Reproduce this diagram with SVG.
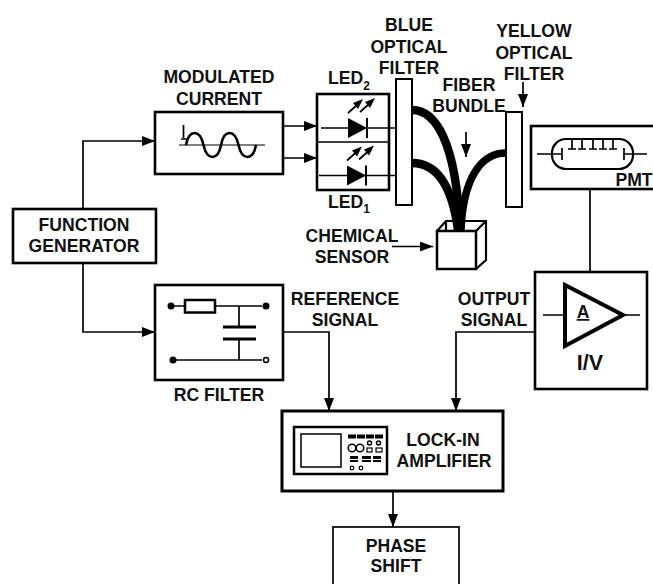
<svg xmlns="http://www.w3.org/2000/svg" width="653" height="584" viewBox="0 0 653 584">
<style>
text{font-family:"Liberation Sans",Arial,sans-serif;font-weight:bold;font-size:17.6px;fill:#111;text-anchor:middle}
.b{fill:#fff;stroke:#000;stroke-width:2.600}
.t{fill:#fff;stroke:#000;stroke-width:2}
.l{fill:none;stroke:#000;stroke-width:1.700}
.f{fill:none;stroke:#000;stroke-width:8.500}
.k{fill:#000;stroke:none}
.s{fill:#fff;stroke:#000;stroke-width:1.200}
</style>
<defs>
<marker id="a" markerUnits="userSpaceOnUse" markerWidth="14" markerHeight="10" refX="13" refY="5" orient="auto"><path d="M0,0L13,5L0,10Z" fill="#000"/></marker>
<g id="led"><path class="k" d="M0,-10L19,0L0,10Z"/><path d="M19,-10V10" fill="none" stroke="#000" stroke-width="2"/><path class="l" d="M0,-15L9,-23M12,-16L21,-24"/><path class="k" d="M15,-29L5,-25L10,-19ZM27,-30L17,-26L22,-20Z"/></g>
</defs>
<g id="connectors">
<path class="l" d="M83,209V141H155" marker-end="url(#a)"/>
<path class="l" d="M83,263V332H155" marker-end="url(#a)"/>
<path class="l" d="M283,126H317" marker-end="url(#a)"/>
<path class="l" d="M283,158H317" marker-end="url(#a)"/>
<path class="l" d="M283,332H329V411" marker-end="url(#a)"/>
<path class="l" d="M535,332H456V411" marker-end="url(#a)"/>
<path class="l" d="M393,491V527" marker-end="url(#a)"/>
<path class="l" d="M590,189V272"/>
<path class="l" d="M392,246.500H433" marker-end="url(#a)"/>
<path class="l" d="M466,132V157" marker-end="url(#a)"/>
<path class="l" d="M523,82V107" marker-end="url(#a)"/>
</g>
<g id="modulated-current">
<rect class="b" x="155" y="112" width="128" height="62"/>
<text x="219" y="83">MODULATED</text><text x="219" y="105">CURRENT</text>
<path d="M179,145H265" fill="none" stroke="#555" stroke-width="1.700"/>
<path class="l" d="M183.500,125V138M181,139H187"/>
<path fill="none" stroke="#000" stroke-width="2.600" d="M186,145C189,129 200,129 203.500,145C207,161 218,161 221,145C224,129 235,129 238.500,145C242,161 253,161 256,145"/>
</g>
<g id="led-array">
<rect class="b" x="317" y="94" width="72" height="96"/>
<path class="l" d="M317,142H389"/>
<path class="l" d="M321,128H396M319,175.500H396"/>
<use href="#led" x="348" y="128"/>
<use href="#led" x="347" y="175.500"/>
<text x="328" y="84" style="text-anchor:start">LED<tspan style="font-size:12px" dy="6">2</tspan></text>
<text x="328" y="208" style="text-anchor:start">LED<tspan style="font-size:12px" dy="5">1</tspan></text>
</g>
<g id="chemical-sensor">
<path fill="none" stroke="#000" stroke-width="2.200" d="M437,231L446,221H486V260L476,269M476,231L486,221M446,221V233"/>
<rect x="437" y="231" width="39" height="38" fill="#fff" stroke="#000" stroke-width="2.500"/>
<text x="352" y="242">CHEMICAL</text><text x="352" y="263">SENSOR</text>
</g>
<g id="fiber-bundle">
<path class="f" d="M412,110C435,110 456,140 460,230"/>
<path class="f" d="M412,163C437,163 452,185 458,230"/>
<path class="f" style="stroke-width:7.500" d="M506,153C480,153 463,180 461,230"/>
<text x="469" y="91">FIBER</text><text x="469" y="112">BUNDLE</text>
</g>
<g id="blue-filter">
<rect class="t" x="396" y="79" width="16" height="126"/>
<text x="409" y="31">BLUE</text><text x="409" y="53">OPTICAL</text><text x="409" y="74">FILTER</text>
</g>
<g id="yellow-filter">
<rect class="t" x="506" y="112" width="16" height="95"/>
<text x="534" y="37">YELLOW</text><text x="534" y="59">OPTICAL</text><text x="534" y="80">FILTER</text>
</g>
<g id="pmt">
<rect class="b" x="531" y="126" width="126" height="63"/>
<rect x="552" y="139" width="81" height="30" rx="14" fill="none" stroke="#000" stroke-width="2.200"/>
<path class="l" d="M537,154H562M562,148V160M624,148V160M624,154H647M568,149H576M578,149H586M589,149H597M599,149H607M609,149H617M572,140V149M582,140V149M593,140V149M603,140V149M613,140V149"/>
<text x="634" y="186">PMT</text>
</g>
<g id="amplifier">
<rect class="b" x="535" y="272" width="112" height="117"/>
<path class="l" d="M543,315H564M624,315H640"/>
<path d="M565,285V346L623,315Z" fill="#fff" stroke="#000" stroke-width="4"/>
<text x="583" y="318" text-decoration="underline">A</text>
<text x="590" y="370" style="font-size:21.500px">I/V</text>
</g>
<g id="function-generator">
<rect class="b" x="13" y="209" width="143" height="54"/>
<text x="84" y="231">FUNCTION</text><text x="84" y="252">GENERATOR</text>
</g>
<g id="rc-filter">
<rect class="b" x="155" y="285" width="128" height="95"/>
<path class="l" d="M174,306H262M239,306V326M239,339V360M175,360H262"/>
<rect x="185" y="300" width="30" height="12.500" fill="#fff" stroke="#000" stroke-width="2.500"/>
<path d="M223,327H256M223,339H256" fill="none" stroke="#000" stroke-width="3"/>
<circle class="k" cx="171" cy="306" r="3.500"/><circle class="k" cx="266" cy="306" r="3.500"/><circle class="k" cx="173" cy="360" r="3.500"/>
<circle cx="266" cy="360" r="2.500" fill="#fff" stroke="#000" stroke-width="1.500"/>
<text x="219" y="401">RC FILTER</text>
<text x="345" y="305">REFERENCE</text><text x="345" y="326">SIGNAL</text>
</g>
<g id="output-label">
<text x="494" y="305">OUTPUT</text><text x="494" y="326">SIGNAL</text>
</g>
<g id="lock-in-amplifier">
<rect class="b" x="282" y="411" width="221" height="80" style="stroke-width:3"/>
<rect x="294" y="427" width="93" height="47" fill="#fff" stroke="#000" stroke-width="2.500"/>
<rect x="301" y="434" width="40" height="33" class="s" style="stroke-width:1.500"/>
<g class="s">
<rect x="348" y="434.500" width="8" height="4" class="k"/><rect x="357" y="434.500" width="8" height="4" class="k"/><rect x="366" y="434.500" width="8" height="4" class="k"/><rect x="375" y="434.500" width="8" height="4" class="k"/>
</g>
<circle cx="352" cy="448" r="3.800" class="s" style="stroke-width:1.500"/><circle cx="360" cy="448" r="3.800" class="s" style="stroke-width:1.500"/>
<circle cx="369.500" cy="443" r="2" class="s" style="stroke-width:1.500"/><circle cx="378.500" cy="443" r="2" class="s" style="stroke-width:1.500"/>
<rect x="367" y="448" width="5" height="4" class="s"/><rect x="376" y="448" width="6" height="4" class="s"/>
<path class="k" d="M350,456H358V459H350ZM362,456H371V459H362ZM373,456H381V459H373ZM350,460H358V462H350ZM362,460H371V462H362ZM373,460H381V462H373Z"/>
<circle cx="352" cy="468" r="1.800" class="s"/><circle cx="361" cy="468" r="1.800" class="s"/>
<text x="443" y="446">LOCK-IN</text><text x="444" y="467">AMPLIFIER</text>
</g>
<g id="phase-shift">
<rect class="t" x="333" y="527" width="126" height="60" style="stroke-width:1.700"/>
<text x="396" y="552">PHASE</text><text x="396" y="572">SHIFT</text>
</g>
</svg>
